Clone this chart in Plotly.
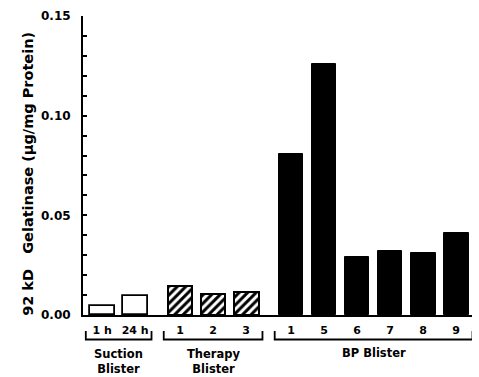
import plotly.graph_objects as go

# ---- data ----
groups = ["Suction<br>Blister", "Therapy<br>Blister", "BP Blister"]
group_sizes = [2, 3, 6]
tick_labels = ["1 h", "24 h", "1", "2", "3", "1", "5", "6", "7", "8", "9"]
suction_values = [0.0047, 0.0096]
therapy_values = [0.0146, 0.0104, 0.0117]
bp_values = [0.081, 0.126, 0.029, 0.032, 0.031, 0.041]
y_ticks = [0.00, 0.05, 0.10, 0.15]
y_tick_labels = ["0.00", "0.05", "0.10", "0.15"]

# ---- layout helpers ----
GAP = 0.36
BW = 0.75
positions = []
idx = 0
for g, n in enumerate(group_sizes):
    for k in range(n):
        positions.append(idx + g * GAP)
        idx += 1
pos_s = positions[0:2]
pos_t = positions[2:5]
pos_b = positions[5:11]

FONT = "DejaVu Sans, Arial, sans-serif"

fig = go.Figure()
fig.add_trace(go.Bar(x=pos_s, y=suction_values, width=BW,
                     marker=dict(color="white", line=dict(color="black", width=1.8)),
                     showlegend=False))
fig.add_trace(go.Bar(x=pos_t, y=therapy_values, width=BW,
                     marker=dict(color="white", line=dict(color="black", width=2),
                                 pattern=dict(shape="/", fgcolor="black", bgcolor="white",
                                              fgopacity=1, size=6, solidity=0.5)),
                     showlegend=False))
fig.add_trace(go.Bar(x=pos_b, y=bp_values, width=BW,
                     marker=dict(color="black", line=dict(color="black", width=1)),
                     showlegend=False))

# brackets and group labels
PAD = 0.12
y_line = -0.082
y_hook = -0.0535
start = 0
shapes = []
annotations = []
for g, n in enumerate(group_sizes):
    ps = positions[start:start + n]
    x0 = ps[0] - BW / 2 - PAD
    x1 = ps[-1] + BW / 2 + PAD
    path = f"M {x0},{y_hook} L {x0},{y_line} L {x1},{y_line} L {x1},{y_hook}"
    shapes.append(dict(type="path", xref="x", yref="paper",
                       path=path, line=dict(color="black", width=1.8)))
    two_line = "<br>" in groups[g]
    annotations.append(dict(x=(ps[0] + ps[-1]) / 2, xref="x",
                            y=-0.154 if two_line else -0.127, yref="paper",
                            text="<b>" + groups[g] + "</b>", showarrow=False,
                            font=dict(family=FONT, size=11.5, color="black"),
                            xanchor="center", yanchor="middle"))
    start += n

annotations.append(dict(x=-0.1414, xref="paper", y=0.472, yref="paper",
                        text="<b>92 kD\u00a0\u00a0\u00a0Gelatinase (\u00b5g/mg Protein)</b>",
                        textangle=-90, showarrow=False,
                        font=dict(family=FONT, size=14.5, color="black"),
                        xanchor="center", yanchor="middle"))

fig.update_layout(
    width=479, height=377,
    margin=dict(l=83, r=7, t=16, b=62, autoexpand=False),
    paper_bgcolor="white", plot_bgcolor="white",
    bargap=0,
    shapes=shapes, annotations=annotations,
    font=dict(family=FONT, color="black"),
)
fig.update_xaxes(range=[-0.58, 11.2], tickvals=positions,
                 ticktext=["<b>" + t + "</b>" for t in tick_labels],
                 tickfont=dict(family=FONT, size=11, color="black"),
                 showline=True, linecolor="black", linewidth=2,
                 ticks="", showgrid=False, zeroline=False,
                 ticklabelstandoff=4, automargin=False)
fig.update_yaxes(range=[0, 0.15], tickvals=y_ticks,
                 ticktext=["<b>" + t + "</b>" for t in y_tick_labels],
                 tickfont=dict(family=FONT, size=12, color="black"),
                 showline=True, linecolor="black", linewidth=2,
                 ticks="inside", ticklen=4, tickwidth=2, tickcolor="black",
                 minor=dict(dtick=0.01, ticks="inside", ticklen=4, tickwidth=2,
                            tickcolor="black", showgrid=False),
                 showgrid=False, zeroline=False, ticklabelstandoff=8,
                 automargin=False)

fig.write_html("out.html", config={"displayModeBar": False},
               post_script="document.body.style.margin='0';document.body.style.overflow='hidden';")
